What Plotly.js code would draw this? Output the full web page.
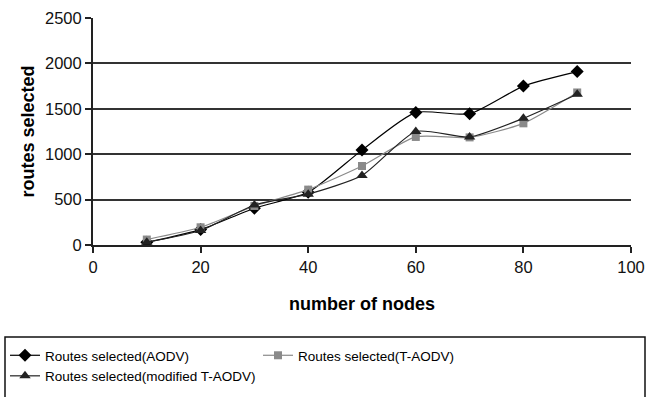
<!DOCTYPE html>
<html>
<head>
<meta charset="utf-8">
<script src="https://cdn.plot.ly/plotly-3.0.1.min.js"></script>
<style>body{margin:0;padding:0;background:#fff}#chart{width:654px;height:397px}</style>
</head>
<body>
<div id="chart"></div>
<script>
const nodes = [10, 20, 30, 40, 50, 60, 70, 80, 90];
const aodv = [30, 170, 405, 580, 1045, 1460, 1445, 1750, 1910];
const taodv = [60, 195, 430, 610, 870, 1190, 1185, 1340, 1680];
const modTaodv = [30, 160, 440, 560, 765, 1250, 1190, 1395, 1660];
const seriesNames = ['Routes selected(AODV)', 'Routes selected(T-AODV)', 'Routes selected(modified T-AODV)'];
const xTicks = [0, 20, 40, 60, 80, 100];
const yTicks = [0, 500, 1000, 1500, 2000, 2500];

const W = 654, H = 397;
const L = 93, R = 23, T = 18, B = 152;
const pw = W - L - R, ph = H - T - B;
const px = v => (v - L) / pw;
const py = v => (H - B - v) / ph;

const traces = [
  {x: nodes, y: aodv, name: seriesNames[0], mode: 'lines+markers', line: {color: '#000', width: 1.2, shape: 'spline', smoothing: 0.6}, marker: {symbol: 'diamond', size: 10, color: '#000'}},
  {x: nodes, y: taodv, name: seriesNames[1], mode: 'lines+markers', line: {color: '#8a8a8a', width: 1.2, shape: 'spline', smoothing: 0.6}, marker: {symbol: 'square', size: 8, color: '#8a8a8a'}},
  {x: nodes, y: modTaodv, name: seriesNames[2], mode: 'lines+markers', line: {color: '#222', width: 1.2, shape: 'spline', smoothing: 0.6}, marker: {symbol: 'triangle-up', size: 10, color: '#222'}}
];

const layout = {
  width: W, height: H,
  margin: {l: L, r: R, t: T, b: B, pad: 0, autoexpand: false},
  paper_bgcolor: '#fff', plot_bgcolor: '#fff',
  font: {family: 'Liberation Sans, Arial, sans-serif', size: 14, color: '#000'},
  showlegend: true,
  xaxis: {
    range: [0, 100], tickvals: xTicks, ticktext: xTicks.map(String),
    showgrid: false, zeroline: false, showline: true, linecolor: '#222', linewidth: 2,
    ticks: 'outside', ticklen: 6, tickcolor: '#222', tickwidth: 2, automargin: false,
    tickfont: {size: 16.5, color: '#111'}, fixedrange: true,
    title: {text: '<b>number of nodes</b>', font: {size: 18}, standoff: 23}
  },
  yaxis: {
    range: [0, 2500], tickvals: yTicks, ticktext: yTicks.map(String),
    showgrid: true, gridcolor: '#333', gridwidth: 2, zeroline: false,
    showline: true, linecolor: '#222', linewidth: 2, automargin: false,
    ticks: 'outside', ticklen: 6, tickcolor: '#222', tickwidth: 2,
    tickfont: {size: 16.5, color: '#111'}, fixedrange: true,
    title: {text: '<b>routes selected</b>', font: {size: 18}, standoff: 6}
  },
  legend: {
    orientation: 'h', x: px(5), y: py(340), xanchor: 'left', yanchor: 'top',
    entrywidth: 208, entrywidthmode: 'pixels',
    font: {size: 13.5}, bgcolor: 'rgba(0,0,0,0)', borderwidth: 0, tracegroupgap: 0
  },
  shapes: [
    {type: 'rect', xref: 'paper', yref: 'paper', x0: px(5), x1: px(645), y0: py(337), y1: py(400), line: {color: '#111', width: 1.5}, fillcolor: 'rgba(0,0,0,0)'}
  ]
};

Plotly.newPlot('chart', traces, layout, {displayModeBar: false, staticPlot: true});
</script>
</body>
</html>
